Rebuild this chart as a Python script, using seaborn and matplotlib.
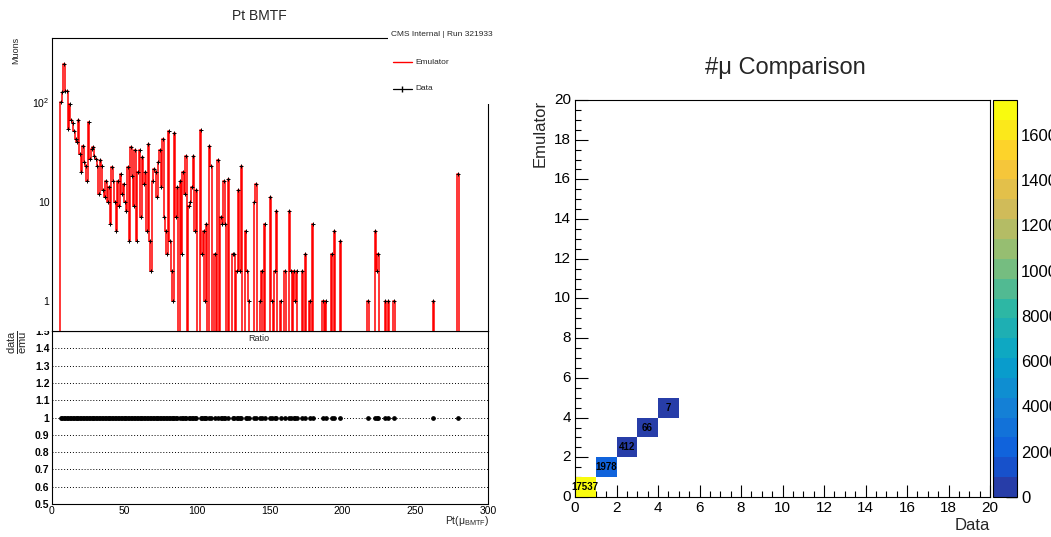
import numpy as np
import pandas as pd
import matplotlib
matplotlib.use("Agg")
import matplotlib.pyplot as plt
import seaborn as sns
from matplotlib.colors import LinearSegmentedColormap, ListedColormap
from matplotlib.lines import Line2D
from matplotlib.patches import Rectangle
from matplotlib.ticker import (MultipleLocator, FixedLocator, FixedFormatter,
                               LogLocator, NullFormatter, FuncFormatter)

# ---------------- Pt BMTF: 1 GeV bins from 0 to 300 GeV (filled bins only)
pt_bin_low = [
    6, 7, 8, 9, 10, 11, 12, 13, 14, 15,
    16, 17, 18, 19, 20, 21, 22, 23, 24, 25,
    26, 27, 28, 29, 30, 31, 32, 33, 34, 35,
    36, 37, 38, 39, 40, 41, 42, 43, 44, 45,
    46, 47, 48, 49, 50, 51, 52, 53, 54, 55,
    56, 57, 58, 59, 60, 61, 62, 63, 64, 65,
    66, 67, 68, 69, 70, 71, 72, 73, 74, 75,
    76, 77, 78, 79, 80, 81, 82, 83, 84, 85,
    86, 88, 89, 90, 91, 92, 94, 95, 96, 97, 98, 99,
    102, 103, 104, 105, 106, 108, 109, 112, 114, 116,
    117, 118, 119, 121, 124, 125, 127, 128, 129, 130,
    133, 134, 135, 139, 140, 143, 144, 146, 150, 151,
    153, 154, 157, 160, 163, 164, 166, 167, 168, 172,
    174, 177, 179, 186, 188, 192, 194, 198,
    217, 222, 223, 224, 229, 231, 235, 262, 279,
]
data_counts = [
    100, 125, 240, 128, 128, 53, 95, 66, 62, 51,
    43, 40, 66, 30, 20, 36, 25, 23, 16, 63,
    27, 34, 35, 29, 27, 23, 12, 26, 23, 13,
    11, 16, 10, 14, 6, 22, 16, 10, 5, 16,
    9, 19, 12, 15, 10, 8, 22, 4, 35, 18,
    9, 33, 4, 20, 33, 7, 28, 15, 20, 5,
    38, 4, 2, 16, 21, 20, 11, 25, 33, 14,
    43, 7, 5, 3, 51, 4, 2, 1, 49, 7,
    14, 16, 3, 20, 12, 29, 9, 10, 14, 29, 5, 13,
    52, 3, 5, 1, 6, 36, 23, 3, 26, 7,
    6, 16, 6, 17, 3, 3, 2, 13, 2, 23,
    5, 2, 1, 10, 15, 1, 2, 6, 11, 1,
    2, 8, 1, 2, 8, 2, 2, 1, 2, 2,
    3, 1, 6, 1, 1, 3, 5, 4,
    1, 5, 2, 3, 1, 1, 1, 1, 19,
]
# the emulator reproduces the data bin for bin
emu_counts = list(data_counts)

pt_min, pt_max, pt_width = 0, 300, 1

# ---------------- #mu comparison (events per data / emulator multiplicity)
n_mu_data = [0, 1, 2, 3, 4]
n_mu_emu = [0, 1, 2, 3, 4]
n_events = [17537, 1978, 412, 66, 7]
n_mu_bins = 20

run_label = "CMS Internal | Run 321933"

# ---------------- style
sns.set_style("white")
plt.rcParams["font.family"] = ["Liberation Sans", "DejaVu Sans"]
plt.rcParams["mathtext.fontset"] = "custom"
plt.rcParams["mathtext.rm"] = "Liberation Sans"
plt.rcParams["mathtext.it"] = "Liberation Sans:italic"
plt.rcParams["mathtext.bf"] = "Liberation Sans:bold"
plt.rcParams["axes.linewidth"] = 0.8
plt.rcParams["axes.edgecolor"] = "black"
plt.rcParams["xtick.color"] = "black"
plt.rcParams["ytick.color"] = "black"

W, H = 1051, 537
fig = plt.figure(figsize=(W / 100, H / 100), dpi=100)
fig.patch.set_facecolor("white")


def box(x0, y0, x1, y1):
    """Axes rectangle from pixel corners (top-left origin)."""
    return [x0 / W, 1 - y1 / H, (x1 - x0) / W, (y1 - y0) / H]


edges = np.arange(pt_min, pt_max + pt_width, pt_width)
centers = edges[:-1] + pt_width / 2
idx = ((np.array(pt_bin_low) - pt_min) // pt_width).astype(int)
h_data = np.zeros(len(centers))
h_emu = np.zeros(len(centers))
h_data[idx] = data_counts
h_emu[idx] = emu_counts
hist_df = pd.DataFrame({"pt": centers, "emu": h_emu, "data": h_data})

# ---------------- ratio pad
ax_r = fig.add_axes(box(51.5, 331, 488, 504))
filled = h_emu > 0
ratio = h_data[filled] / h_emu[filled]
ax_r.errorbar(centers[filled], ratio, xerr=pt_width / 2, fmt="o", ms=2.4,
              color="black", elinewidth=1.2, capsize=0, zorder=3)
ax_r.set_xlim(pt_min, pt_max)
ax_r.set_ylim(0.5, 1.5)
ax_r.yaxis.set_major_locator(MultipleLocator(0.1))
ax_r.yaxis.set_minor_locator(MultipleLocator(0.02))
ax_r.yaxis.set_major_formatter(FuncFormatter(lambda v, p: f"{v:g}"))
ax_r.xaxis.set_major_locator(MultipleLocator(50))
ax_r.xaxis.set_minor_locator(MultipleLocator(10))
ax_r.yaxis.grid(True, which="major", linestyle=(0, (1, 2)), color="black", lw=0.7)
ax_r.tick_params(which="both", direction="in", top=False, right=False)
ax_r.tick_params(axis="x", which="major", length=5.5, labelsize=7.5, pad=1.5)
ax_r.tick_params(axis="x", which="minor", length=3)
ax_r.tick_params(axis="y", which="major", length=6, labelsize=7.5, pad=1.5)
ax_r.tick_params(axis="y", which="minor", length=3.5)
for lab in ax_r.get_yticklabels():
    lab.set_fontweight("bold")

# ---------------- main pad
ax_t = fig.add_axes(box(51.5, 38, 488, 331))
sns.histplot(data=hist_df, x="pt", weights="emu", bins=list(edges), element="step",
             fill=False, color="red", linewidth=1.1, ax=ax_t)
data_on = h_data > 0
ax_t.errorbar(centers[data_on], h_data[data_on], xerr=pt_width / 2, fmt="+",
              ms=3.5, mew=0.7, color="black", elinewidth=0.7, capsize=0, zorder=3)
ax_t.set_yscale("log")
ax_t.set_xlim(pt_min, pt_max)
ax_t.set_ylim(0.5, 440)
ax_t.set_xlabel("")
ax_t.set_ylabel("")
ax_t.yaxis.set_major_locator(FixedLocator([1, 10, 100]))
ax_t.yaxis.set_major_formatter(FixedFormatter(["1", "10", r"$10^{2}$"]))
ax_t.yaxis.set_minor_locator(LogLocator(base=10, subs=np.arange(2, 10), numticks=20))
ax_t.yaxis.set_minor_formatter(NullFormatter())
ax_t.xaxis.set_major_locator(MultipleLocator(50))
ax_t.xaxis.set_minor_locator(MultipleLocator(10))
ax_t.tick_params(which="both", direction="in", top=False, right=False)
ax_t.tick_params(axis="x", which="major", length=6, labelbottom=False)
ax_t.tick_params(axis="x", which="minor", length=3)
ax_t.tick_params(axis="y", which="major", length=11, labelsize=7.5, pad=1.5)
ax_t.tick_params(axis="y", which="minor", length=6)

fig.text(259 / W, 1 - 16 / H, "Pt BMTF", ha="center", va="center", fontsize=10)
fig.text(16 / W, 1 - 37 / H, "Muons", rotation=90, ha="center", va="top", fontsize=6.5)
fig.text(17 / W, 1 - 342 / H, r"$\frac{\mathrm{data}}{\mathrm{emu}}$", rotation=90,
         ha="center", va="center", fontsize=11.5)
fig.text(259 / W, 1 - 338.5 / H, "Ratio", ha="center", va="center", fontsize=6.5)
fig.text(489 / W, 1 - 521 / H, r"Pt($\mathrm{\mu}_{\mathrm{BMTF}}$)", ha="right",
         va="center", fontsize=7.5)

# upper pad edge hides the top of the ratio pad's highest label
fig.add_artist(Rectangle((0, 1 - 331 / H), 50 / W, 12 / H, transform=fig.transFigure,
                         facecolor="white", edgecolor="none", zorder=4))

# legend block
fig.add_artist(Rectangle((388 / W, 1 - 104 / H), (512 - 388) / W, (104 - 25) / H,
                         transform=fig.transFigure, facecolor="white",
                         edgecolor="none", zorder=5))
fig.text(391 / W, 1 - 34 / H, run_label, ha="left", va="center", fontsize=6, zorder=6)
fig.add_artist(Line2D([393 / W, 412 / W], [1 - 62 / H] * 2, color="red", lw=1,
                      transform=fig.transFigure, zorder=6))
fig.text(415 / W, 1 - 62 / H, "Emulator", ha="left", va="center", fontsize=6, zorder=6)
fig.add_artist(Line2D([393 / W, 402.5 / W, 412 / W], [1 - 89 / H] * 3, color="black",
                      lw=0.9, marker="|", ms=4, markevery=[1],
                      transform=fig.transFigure, zorder=6))
fig.text(415 / W, 1 - 89 / H, "Data", ha="left", va="center", fontsize=6, zorder=6)

# ---------------- #mu comparison
bird_stops = [0.0, 0.125, 0.25, 0.375, 0.5, 0.625, 0.75, 0.875, 1.0]
bird_r = [0.2082, 0.0592, 0.0780, 0.0232, 0.1802, 0.5301, 0.8186, 0.9956, 0.9764]
bird_g = [0.1664, 0.3599, 0.5041, 0.6419, 0.7178, 0.7492, 0.7328, 0.7862, 0.9832]
bird_b = [0.5293, 0.8684, 0.8385, 0.7914, 0.6425, 0.4662, 0.3499, 0.1968, 0.0539]
bird = LinearSegmentedColormap.from_list(
    "bird", list(zip(bird_stops, zip(bird_r, bird_g, bird_b))))
n_contours = 20
bird_bands = ListedColormap([bird((i + 0.99) / n_contours) for i in range(n_contours)])

mat = np.zeros((n_mu_bins, n_mu_bins), dtype=int)
for d, e, n in zip(n_mu_data, n_mu_emu, n_events):
    mat[e, d] = n
grid = pd.DataFrame(mat)

ax_h = fig.add_axes(box(575, 100, 990, 497))
cax = fig.add_axes(box(993, 100, 1017, 497))
sns.heatmap(grid, ax=ax_h, cbar_ax=cax, cmap=bird_bands, vmin=0, vmax=max(n_events),
            mask=grid == 0, annot=True, fmt="d", linewidths=0,
            annot_kws={"color": "black", "fontsize": 7, "fontweight": "bold"},
            cbar_kws={"ticks": np.arange(0, 17000, 2000)})
ax_h.set_xlim(0, n_mu_bins)
ax_h.set_ylim(0, n_mu_bins)
major = np.arange(0, n_mu_bins + 1, 2)
ax_h.xaxis.set_major_locator(FixedLocator(major))
ax_h.yaxis.set_major_locator(FixedLocator(major))
ax_h.xaxis.set_major_formatter(FixedFormatter([str(v) for v in major]))
ax_h.yaxis.set_major_formatter(FixedFormatter([str(v) for v in major]))
ax_h.xaxis.set_minor_locator(MultipleLocator(0.5))
ax_h.yaxis.set_minor_locator(MultipleLocator(0.5))
for lab in ax_h.get_yticklabels():
    lab.set_rotation(0)
for lab in ax_h.get_xticklabels():
    lab.set_rotation(0)
for s in ax_h.spines.values():
    s.set_visible(True)
    s.set_linewidth(0.8)
    s.set_color("black")
ax_h.tick_params(which="both", direction="in", top=False, right=False,
                 bottom=True, left=True)
ax_h.tick_params(which="major", length=9, width=0.8, labelsize=11, pad=3)
ax_h.tick_params(which="minor", length=4.5, width=0.8)
ax_h.set_xlabel("")
ax_h.set_ylabel("")

cbar = ax_h.collections[0].colorbar
cbar.outline.set_linewidth(0.8)
cbar.outline.set_edgecolor("black")
cax.tick_params(direction="in", length=8, width=1, labelsize=12, pad=3, color="black")
cax.yaxis.set_major_formatter(FuncFormatter(lambda v, p: f"{v:.0f}"))

fig.text(785 / W, 1 - 68 / H, "#μ Comparison", ha="center", va="center", fontsize=17)
fig.text(540 / W, 1 - 100 / H, "Emulator", rotation=90, ha="center", va="top", fontsize=12)
fig.text(990 / W, 1 - 525 / H, "Data", ha="right", va="center", fontsize=12)

fig.savefig("out.png", dpi=100, facecolor="white")
